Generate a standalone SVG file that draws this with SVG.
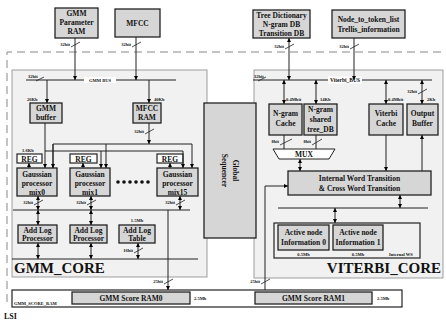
<svg xmlns="http://www.w3.org/2000/svg" width="446" height="321" viewBox="0 0 446 321">
<defs>
<marker id="ah" viewBox="0 0 6 6" refX="6" refY="3" markerWidth="4" markerHeight="4" markerUnits="userSpaceOnUse" orient="auto-start-reverse"><path d="M0,0 L6,3 L0,6 z" fill="#000"/></marker>
<style>
.bx{fill:#d6d6d6;stroke:#222;stroke-width:1.3}
.wb{fill:#fff;stroke:#222;stroke-width:1.2}
.core{fill:#f1f1f1;stroke:#888;stroke-width:0.8}
.l{stroke:#222;stroke-width:1;fill:none}
.a{stroke:#222;stroke-width:1;fill:none;marker-end:url(#ah)}
.d{stroke:#222;stroke-width:1;fill:none;marker-end:url(#ah);marker-start:url(#ah)}
.s{stroke:#222;stroke-width:0.8}
text{font-family:"Liberation Serif","Times New Roman",serif;font-weight:bold;fill:#111}
.b{font-size:7.5px;text-anchor:middle}
.t{font-size:4.5px}
.tr{font-size:4.5px;text-anchor:end}
.big{font-size:15px;font-weight:bold}
</style>
</defs>
<path d="M7,302 V52 H446" fill="none" stroke="#888" stroke-width="1" stroke-dasharray="8,5"/>
<g id="gmm_core"><rect class="core" x="12" y="70" width="195" height="207"/><text class="big" x="14" y="273">GMM_CORE</text></g>
<g id="viterbi_core"><rect class="core" x="254" y="70" width="189" height="208"/><text class="big" x="441" y="273" text-anchor="end">VITERBI_CORE</text></g>
<g id="gmm_param"><rect class="bx" x="55" y="8" width="43" height="30"/><text class="b" x="76.5" y="16">GMM</text><text class="b" x="76.5" y="25">Parameter</text><text class="b" x="76.5" y="34">RAM</text></g>
<g id="mfcc"><rect class="bx" x="115" y="9" width="45" height="28"/><text class="b" x="137.5" y="25.5">MFCC</text></g>
<g id="tree_dict"><rect class="bx" x="253" y="10" width="57" height="28"/><text class="b" x="281.5" y="17.5">Tree Dictionary</text><text class="b" x="281.5" y="26.5">N-gram DB</text><text class="b" x="281.5" y="35.5">Transition DB</text></g>
<g id="node_token"><rect class="bx" x="332" y="10" width="73" height="28"/><text class="b" x="368.5" y="21.5">Node_to_token_list</text><text class="b" x="368.5" y="31.5">Trellis_information</text></g>
<g id="gmm_buffer"><rect class="bx" x="30" y="103" width="32" height="20"/><text class="b" x="46" y="111">GMM</text><text class="b" x="46" y="120">buffer</text></g>
<g id="mfcc_ram"><rect class="bx" x="133" y="103" width="28" height="20"/><text class="b" x="147" y="111">MFCC</text><text class="b" x="147" y="120">RAM</text></g>
<g id="reg0"><rect class="wb" x="17" y="154" width="25" height="9"/><text class="b" x="29.5" y="161.5">REG</text></g>
<g id="reg1"><rect class="wb" x="70" y="154" width="27" height="9"/><text class="b" x="83.5" y="161.5">REG</text></g>
<g id="reg15"><rect class="wb" x="157" y="154" width="26" height="9"/><text class="b" x="170" y="161.5">REG</text></g>
<g id="gp0"><rect class="bx" x="17" y="168" width="40" height="28"/><text class="b" x="37" y="176.5">Gaussian</text><text class="b" x="37" y="185.5">processor</text><text class="b" x="37" y="194.5">mix0</text></g>
<g id="gp1"><rect class="bx" x="70" y="168" width="40" height="28"/><text class="b" x="90" y="176.5">Gaussian</text><text class="b" x="90" y="185.5">processor</text><text class="b" x="90" y="194.5">mix1</text></g>
<g id="gp15"><rect class="bx" x="157" y="168" width="41" height="28"/><text class="b" x="177.5" y="176.5">Gaussian</text><text class="b" x="177.5" y="185.5">processor</text><text class="b" x="177.5" y="194.5">mix15</text></g>
<g id="dots" fill="#111"><circle cx="118" cy="182" r="1.8"/><circle cx="124" cy="182" r="1.8"/><circle cx="130" cy="182" r="1.8"/><circle cx="136" cy="182" r="1.8"/><circle cx="142" cy="182" r="1.8"/><circle cx="148" cy="182" r="1.8"/></g>
<g id="addlog0"><rect class="bx" x="18" y="225" width="39" height="18"/><text class="b" x="37.5" y="232.5">Add Log</text><text class="b" x="37.5" y="241">Processor</text></g>
<g id="addlog1"><rect class="bx" x="70" y="225" width="37" height="18"/><text class="b" x="88.5" y="232.5">Add Log</text><text class="b" x="88.5" y="241">Processor</text></g>
<g id="addlog_table"><rect class="bx" x="119" y="225" width="36" height="18"/><text class="b" x="137" y="232.5">Add Log</text><text class="b" x="137" y="241">Table</text></g>
<g id="global_seq"><rect class="bx" x="204" y="103" width="52" height="135"/><text class="b" font-size="9" transform="translate(233,170.5) rotate(90)">Global</text><text class="b" font-size="9" transform="translate(222,170.5) rotate(90)">Sequencer</text></g>
<g id="ngram_cache"><rect class="bx" x="269" y="104" width="33" height="31"/><text class="b" x="285.5" y="116">N-gram</text><text class="b" x="285.5" y="126">Cache</text></g>
<g id="ngram_shared"><rect class="bx" x="304" y="104" width="33" height="31"/><text class="b" x="320.5" y="111.5">N-gram</text><text class="b" x="320.5" y="121.5">shared</text><text class="b" x="320.5" y="131.5">tree_DB</text></g>
<g id="viterbi_cache"><rect class="bx" x="369" y="104" width="34" height="31"/><text class="b" x="386" y="116">Viterbi</text><text class="b" x="386" y="126">Cache</text></g>
<g id="output_buffer"><rect class="bx" x="407" y="104" width="31" height="31"/><text class="b" x="422.5" y="116">Output</text><text class="b" x="422.5" y="126">Buffer</text></g>
<g id="mux"><polygon points="273,149 335,149 329,159 279,159" fill="#fff" stroke="#222" stroke-width="1"/><text class="b" x="304" y="157">MUX</text></g>
<g id="iwt"><rect class="bx" x="288" y="171" width="143" height="24"/><text class="b" x="359.5" y="181">Internal Word Transition</text><text class="b" x="359.5" y="191">&amp; Cross Word Transition</text></g>
<g id="internal_ws"><rect fill="#f1f1f1" stroke="#222" stroke-width="1.2" x="274" y="223" width="146" height="35"/><text class="t" x="389" y="255.5">Internal WS</text></g>
<g id="active0"><rect class="bx" x="278" y="225" width="51" height="25"/><text class="b" x="303.5" y="235">Active node</text><text class="b" x="303.5" y="245">Information 0</text><text class="t" x="303.5" y="255.5" text-anchor="middle">0.5Mb</text></g>
<g id="active1"><rect class="bx" x="333" y="225" width="50" height="25"/><text class="b" x="358" y="235">Active node</text><text class="b" x="358" y="245">Information 1</text><text class="t" x="358" y="255.5" text-anchor="middle">0.5Mb</text></g>
<g id="gmm_score_ram"><rect class="wb" x="12" y="290" width="390" height="17"/><text class="t" x="14" y="305">GMM_SCORE_RAM</text></g>
<g id="score_ram0"><rect class="bx" x="72" y="292" width="118" height="12"/><text class="b" x="131" y="301">GMM Score RAM0</text><text class="t" x="194" y="300">2.5Mb</text></g>
<g id="score_ram1"><rect class="bx" x="255" y="292" width="117" height="12"/><text class="b" x="313.5" y="301">GMM Score RAM1</text><text class="t" x="377" y="300">2.5Mb</text></g>
<g id="lsi"><text x="4" y="319" font-size="8">LSI</text></g>
<g id="connectors">
<line class="l" x1="26" y1="80" x2="176" y2="80"/>
<rect x="84" y="77" width="32" height="6" fill="#fff"/>
<text class="t" x="100" y="81.5" text-anchor="middle" font-weight="normal">GMM BUS</text>
<line class="a" x1="75" y1="38" x2="75" y2="80"/>
<line class="a" x1="136" y1="37" x2="136" y2="80"/>
<line class="a" x1="47" y1="80" x2="47" y2="103"/>
<line class="a" x1="149" y1="80" x2="149" y2="103"/>
<line class="a" x1="149" y1="123" x2="149" y2="144"/>
<polyline class="l" points="53,168 53,144 192,144"/>
<line class="a" x1="53" y1="144" x2="53" y2="168"/>
<line class="a" x1="106" y1="144" x2="106" y2="168"/>
<line class="a" x1="192" y1="144" x2="192" y2="168"/>
<line class="a" x1="45" y1="123" x2="45" y2="168"/>
<line class="l" x1="45" y1="151" x2="183" y2="151"/>
<line class="a" x1="101" y1="151" x2="101" y2="168"/>
<line class="a" x1="183" y1="151" x2="183" y2="168"/>
<line class="a" x1="29" y1="168" x2="29" y2="163"/>
<line class="a" x1="83" y1="168" x2="83" y2="163"/>
<line class="a" x1="170" y1="168" x2="170" y2="163"/>
<line class="d" x1="38" y1="196" x2="38" y2="210"/>
<line class="d" x1="91" y1="196" x2="91" y2="210"/>
<line class="d" x1="180" y1="196" x2="180" y2="210"/>
<line class="l" x1="13" y1="210" x2="190" y2="210"/>
<line class="d" x1="38" y1="210" x2="38" y2="225"/>
<line class="d" x1="91" y1="210" x2="91" y2="225"/>
<line class="d" x1="38" y1="243" x2="38" y2="259"/>
<line class="d" x1="91" y1="243" x2="91" y2="259"/>
<line class="d" x1="138" y1="243" x2="138" y2="259"/>
<line class="l" x1="12" y1="259" x2="198" y2="259"/>
<line class="a" x1="168" y1="210" x2="168" y2="290"/>
<line class="l" x1="253" y1="80" x2="432" y2="80"/>
<rect x="328" y="76.5" width="34" height="7" fill="#fff"/>
<text x="345" y="82" font-size="5.5" text-anchor="middle">Viterbi_BUS</text>
<line class="d" x1="289" y1="38" x2="289" y2="80"/>
<line class="a" x1="354" y1="38" x2="354" y2="80"/>
<line class="d" x1="284" y1="80" x2="284" y2="104"/>
<line class="d" x1="316" y1="80" x2="316" y2="104"/>
<line class="d" x1="386" y1="80" x2="386" y2="104"/>
<line class="d" x1="422" y1="80" x2="422" y2="104"/>
<line class="l" x1="284" y1="135" x2="284" y2="149"/>
<line class="l" x1="316" y1="135" x2="316" y2="149"/>
<line class="d" x1="300" y1="159" x2="300" y2="171"/>
<line class="a" x1="386" y1="135" x2="386" y2="171"/>
<line class="a" x1="422" y1="171" x2="422" y2="135"/>
<polyline class="a" points="265,290 265,186 288,186"/>
<line class="d" x1="400" y1="195" x2="400" y2="208"/>
<line class="l" x1="278" y1="208" x2="428" y2="208"/>
<line class="d" x1="335" y1="208" x2="335" y2="223"/>
<g id="slashes">
<line class="s" x1="71" y1="47" x2="80" y2="42"/><text class="tr" x="70" y="46">32bit</text>
<line class="s" x1="132" y1="47" x2="141" y2="42"/><text class="tr" x="131" y="46">32bit</text>
<line class="s" x1="36" y1="81" x2="44" y2="77"/><text class="t" x="28" y="78">32bit</text>
<line class="s" x1="145" y1="134" x2="154" y2="129"/><text class="tr" x="144" y="133">32bit</text>
<line class="s" x1="34" y1="205" x2="43" y2="200"/><text class="tr" x="33" y="204">32bit</text>
<line class="s" x1="87" y1="205" x2="96" y2="200"/><text class="tr" x="86" y="204">32bit</text>
<line class="s" x1="176" y1="205" x2="185" y2="200"/><text class="tr" x="175" y="204">32bit</text>
<line class="s" x1="134" y1="253" x2="143" y2="248"/><text class="tr" x="133" y="252">16bit</text>
<line class="s" x1="164" y1="284" x2="173" y2="279"/><text class="tr" x="163" y="283">25bit</text>
<line class="s" x1="261" y1="284" x2="270" y2="279"/><text class="tr" x="260" y="283">25bit</text>
<line class="s" x1="285" y1="49" x2="294" y2="44"/><text class="tr" x="284" y="48">32bit</text>
<line class="s" x1="350" y1="49" x2="359" y2="44"/><text class="tr" x="349" y="48">32bit</text>
<line class="s" x1="258" y1="81" x2="266" y2="77"/><text class="t" x="254" y="78">32bit</text>
<line class="s" x1="418" y1="94" x2="427" y2="89"/><text class="tr" x="417" y="93">32bit</text>
<line class="s" x1="280" y1="145" x2="292" y2="139"/><text class="tr" x="279" y="143">8bit</text>
<line class="s" x1="312" y1="145" x2="322" y2="139"/><text class="tr" x="311" y="143">8bit</text>
</g>
<text class="t" x="27" y="101">26Kb</text>
<text class="t" x="154" y="101">40Kb</text>
<text class="t" x="22" y="152">1.6Kb</text>
<text class="t" x="137" y="222" text-anchor="middle">1.5Mb</text>
<text class="t" x="286" y="101">0.4Mbit</text>
<text class="t" x="320" y="101">14Kb</text>
<text class="t" x="388" y="101">0.4Mbit</text>
<text class="t" x="427" y="101">2Kb</text>
</g>
</svg>
